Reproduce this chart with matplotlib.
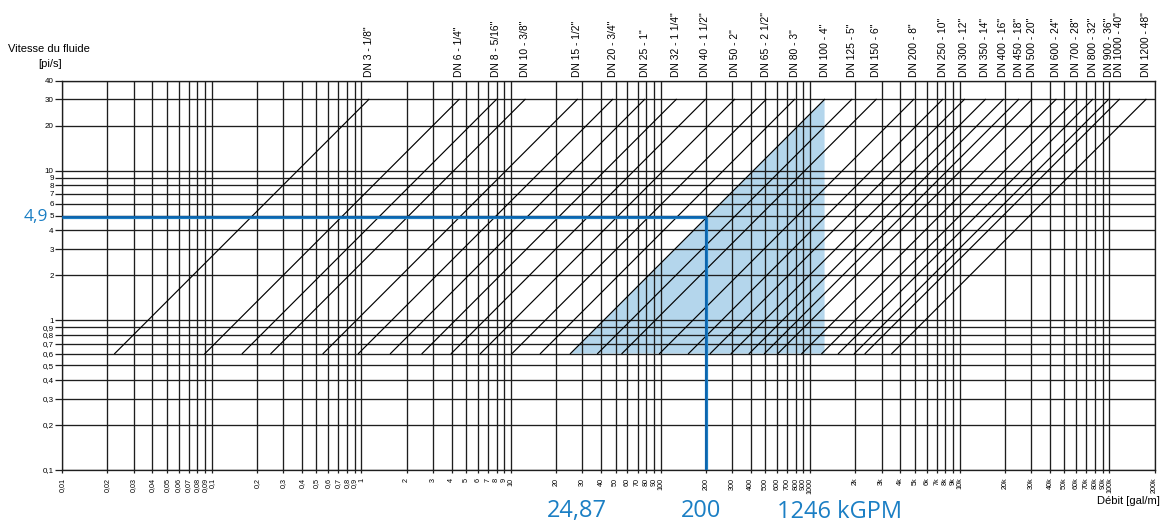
import numpy as np
import matplotlib.pyplot as plt
from matplotlib.transforms import blended_transform_factory

plt.rcParams['font.family'] = ['Liberation Sans', 'DejaVu Sans']

# pipe sizes and the flow (gal/min) each one carries at the top velocity
dn_labels = ['DN 3 - 1/8"', 'DN 6 - 1/4"', 'DN 8 - 5/16"', 'DN 10 - 3/8"', 'DN 15 - 1/2"',
             'DN 20 - 3/4"', 'DN 25 - 1"', 'DN 32 - 1 1/4"', 'DN 40 - 1 1/2"', 'DN 50 - 2"',
             'DN 65 - 2 1/2"', 'DN 80 - 3"', 'DN 100 - 4"', 'DN 125 - 5"', 'DN 150 - 6"',
             'DN 200 - 8"', 'DN 250 - 10"', 'DN 300 - 12"', 'DN 350 - 14"', 'DN 400 - 16"',
             'DN 450 - 18"', 'DN 500 - 20"', 'DN 600 - 24"', 'DN 700 - 28"', 'DN 800 - 32"',
             'DN 900 - 36"', 'DN 1000 - 40"', 'DN 1200 - 48"']
q_top = [1.12, 4.49, 7.98, 12.4, 27.7, 47.7, 78.1, 127, 199, 312,
         507, 785, 1246, 1894, 2755, 4913, 7676, 10720, 14800, 19530,
         24710, 30360, 43910, 59740, 77120, 98630, 116300, 175300]
v_low, v_high = 0.6, 30

# selected point and the usable flow range of that pipe
sel_q, sel_v = 200, 4.9
range_q = [24.87, 1246]

x_ticks = [m * 10.0 ** k for k in range(-2, 5) for m in range(1, 10)] + [1e5, 2e5]
y_ticks = [m * 10.0 ** k for k in range(-1, 1) for m in range(1, 10)] + [10, 20, 30, 40]


def fr(v):
    if v > 1000:
        return '%gk' % (v / 1000)
    return ('%g' % v).replace('.', ',')


blue = '#1b7fc4'
line_c = '#1e1e1e'

fig = plt.figure(figsize=(11.76, 5.26), dpi=100)
ax = fig.add_axes([0.05298, 0.10646, 0.92874, 0.74012])
ax.set_xscale('log')
ax.set_yscale('log')
ax.set_xlim(0.01, 2e5)
ax.set_ylim(0.1, 40)

ax.set_xticks(x_ticks)
ax.set_xticklabels([fr(v) for v in x_ticks], rotation=90, fontsize=5.2)
ax.set_yticks(y_ticks)
ax.set_yticklabels([fr(v) for v in y_ticks], fontsize=5.8)
ax.minorticks_off()
ax.tick_params(axis='x', length=2.2, width=0.9, pad=3.2, color=line_c)
ax.tick_params(axis='y', length=5, width=0.9, pad=1.2, color=line_c)
ax.set_axisbelow('line')
ax.grid(True, color=line_c, lw=0.95)
for s in ax.spines.values():
    s.set_color(line_c)
    s.set_linewidth(0.95)

# usable range of the chosen pipe
ax.fill([range_q[0], range_q[1], range_q[1]], [v_low, v_high, v_low],
        color='#b4d6ec', lw=0, zorder=1)

# one diagonal per pipe size (constant bore)
for q in q_top:
    ax.plot([q * v_low / v_high, q], [v_low, v_high], color='k', lw=0.85, zorder=2)

tr_top = blended_transform_factory(ax.transData, ax.transAxes)
for lab, q in zip(dn_labels, q_top):
    ax.text(q, 1.009, lab, transform=tr_top, rotation=90, ha='center', va='bottom',
            fontsize=7.4)

# reading of the selected point
ax.plot([0.01, sel_q], [sel_v, sel_v], color=blue, lw=2.3, zorder=3, solid_capstyle='butt')
ax.plot([sel_q, sel_q], [0.1, sel_v], color=blue, lw=2.3, zorder=3, solid_capstyle='butt')
ax.plot([0.01, sel_q], [sel_v, sel_v], color='#0b5ea6', lw=1.1, zorder=3)
ax.plot([sel_q, sel_q], [0.1, sel_v], color='#0b5ea6', lw=1.1, zorder=3)

tr_left = blended_transform_factory(ax.transAxes, ax.transData)
ax.text(-0.0135, sel_v, fr(sel_v), transform=tr_left, ha='right', va='center',
        fontsize=12.5, color=blue, family='Open Sans')
ax.annotate(fr(range_q[0]), xy=(range_q[0], -0.105), xycoords=tr_top,
            xytext=(5, 0), textcoords='offset points', ha='center', va='center',
            fontsize=17, color=blue, family='Open Sans')
ax.annotate(fr(sel_q), xy=(sel_q, -0.105), xycoords=tr_top,
            xytext=(-3, 0), textcoords='offset points', ha='center', va='center',
            fontsize=17, color=blue, family='Open Sans')
ax.annotate('%g kGPM' % range_q[1], xy=(range_q[1], -0.108), xycoords=tr_top,
            xytext=(11, 0), textcoords='offset points', ha='center', va='center',
            fontsize=17, color=blue, family='Open Sans')

ax.text(1.005, -0.08, 'Débit [gal/m]', transform=ax.transAxes, ha='right', va='center',
        fontsize=8)
fig.text(49 / 1176, 1 - 49 / 526, 'Vitesse du fluide', ha='center', va='center', fontsize=8)
fig.text(50 / 1176, 1 - 64 / 526, '[pi/s]', ha='center', va='center', fontsize=8)

fig.savefig('out.png', dpi=100)
